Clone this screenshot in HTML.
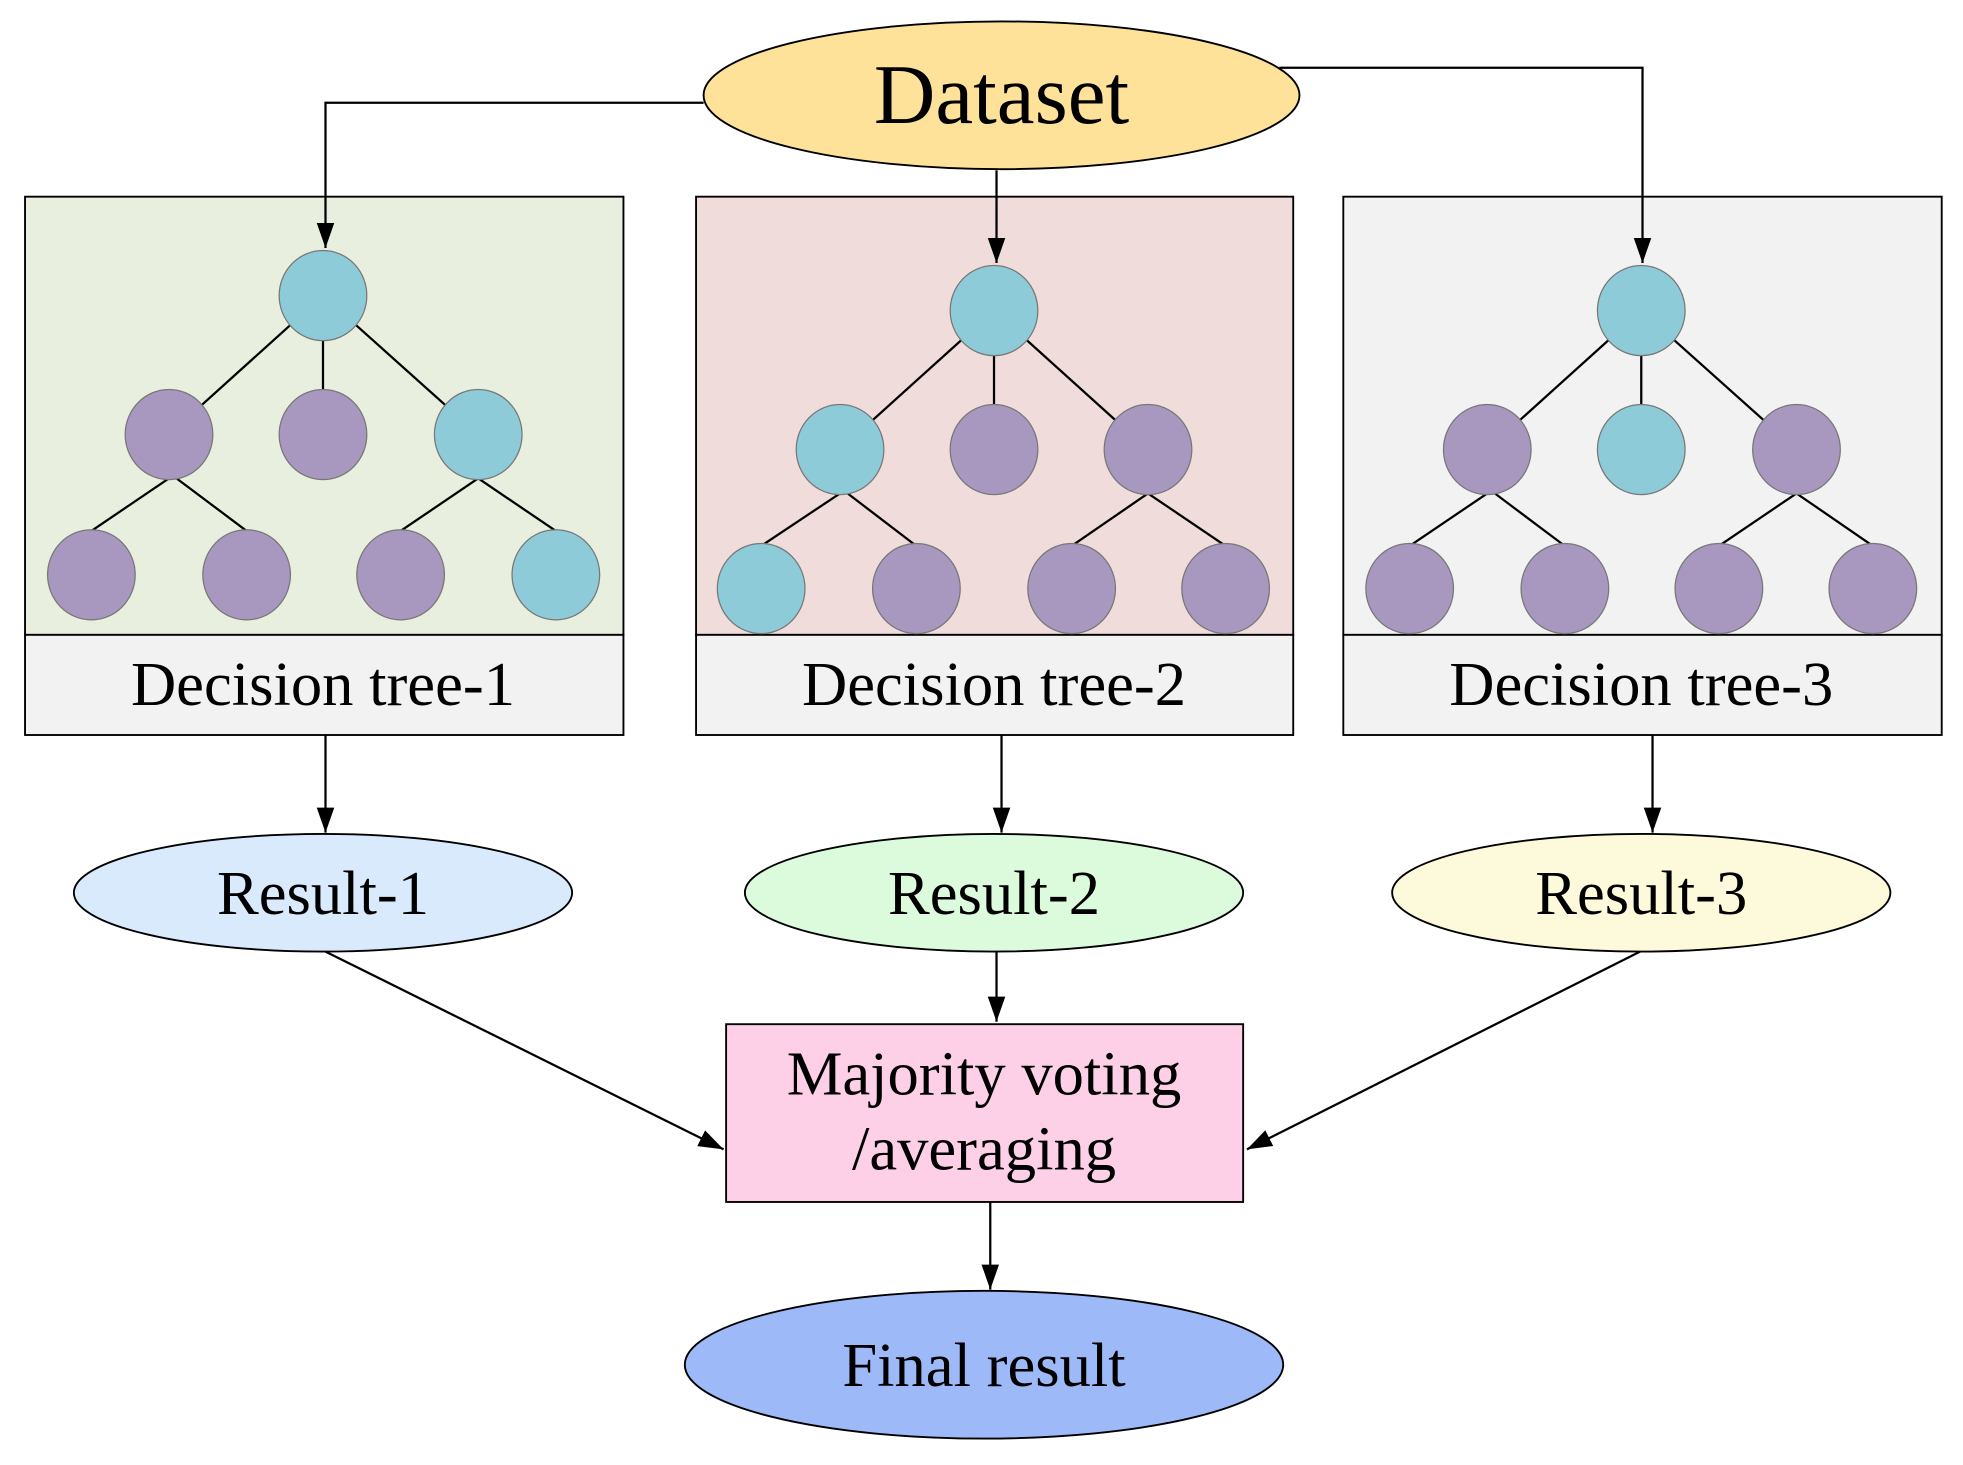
<!DOCTYPE html>
<html><head><meta charset="utf-8"><style>html,body{margin:0;padding:0;background:#fff}svg{display:block}</style></head>
<body>
<svg width="1963" height="1465" viewBox="0 0 1568 1170" xmlns="http://www.w3.org/2000/svg" font-family="'Liberation Serif', serif">
<defs>
<marker id="b" markerWidth="20" markerHeight="20" refX="20" refY="10" orient="auto" markerUnits="userSpaceOnUse" viewBox="0 0 20 20"><path d="M0,3 L20,10 L0,17 z" fill="#000"/></marker>
</defs>
<rect x="20" y="157" width="478" height="350" fill="#e9efdf" stroke="#000" stroke-width="1.5"/>
<rect x="20" y="507" width="478" height="80" fill="#f2f2f2" stroke="#000" stroke-width="1.5"/>
<rect x="556" y="157" width="477" height="350" fill="#f0dcdb" stroke="#000" stroke-width="1.5"/>
<rect x="556" y="507" width="477" height="80" fill="#f2f2f2" stroke="#000" stroke-width="1.5"/>
<rect x="1073" y="157" width="478" height="350" fill="#f2f2f2" stroke="#000" stroke-width="1.5"/>
<rect x="1073" y="507" width="478" height="80" fill="#f2f2f2" stroke="#000" stroke-width="1.5"/>
<g font-size="50" text-anchor="middle" fill="#000">
<text x="258" y="563">Decision tree-1</text>
<text x="794" y="563">Decision tree-2</text>
<text x="1311" y="563">Decision tree-3</text>
</g>
<g stroke="#000" stroke-width="1.8">
<line x1="258" y1="236" x2="135" y2="347"/><line x1="258" y1="236" x2="258" y2="347"/><line x1="258" y1="236" x2="382" y2="347"/>
<line x1="135" y1="382" x2="73" y2="424"/><line x1="141" y1="382" x2="197" y2="424"/><line x1="382" y1="382" x2="320" y2="424"/><line x1="382" y1="382" x2="444" y2="424"/>
<line x1="794" y1="248" x2="671" y2="359"/><line x1="794" y1="248" x2="794" y2="359"/><line x1="794" y1="248" x2="917" y2="359"/>
<line x1="671" y1="394" x2="608" y2="436"/><line x1="677" y1="394" x2="732" y2="436"/><line x1="917" y1="394" x2="856" y2="436"/><line x1="917" y1="394" x2="979" y2="436"/>
<line x1="1311" y1="248" x2="1188" y2="359"/><line x1="1311" y1="248" x2="1311" y2="359"/><line x1="1311" y1="248" x2="1435" y2="359"/>
<line x1="1188" y1="394" x2="1126" y2="436"/><line x1="1194" y1="394" x2="1250" y2="436"/><line x1="1435" y1="394" x2="1373" y2="436"/><line x1="1435" y1="394" x2="1496" y2="436"/>
</g>
<g stroke="#777" stroke-width="1">
<g fill="#8ecbd9">
<ellipse cx="258" cy="236" rx="35" ry="36"/><ellipse cx="382" cy="347" rx="35" ry="36"/><ellipse cx="444" cy="459" rx="35" ry="36"/>
<ellipse cx="794" cy="248" rx="35" ry="36"/><ellipse cx="671" cy="359" rx="35" ry="36"/><ellipse cx="608" cy="470" rx="35" ry="36"/>
<ellipse cx="1311" cy="248" rx="35" ry="36"/><ellipse cx="1311" cy="359" rx="35" ry="36"/>
</g>
<g fill="#a898c0">
<ellipse cx="135" cy="347" rx="35" ry="36"/><ellipse cx="258" cy="347" rx="35" ry="36"/><ellipse cx="73" cy="459" rx="35" ry="36"/><ellipse cx="197" cy="459" rx="35" ry="36"/><ellipse cx="320" cy="459" rx="35" ry="36"/>
<ellipse cx="794" cy="359" rx="35" ry="36"/><ellipse cx="917" cy="359" rx="35" ry="36"/><ellipse cx="732" cy="470" rx="35" ry="36"/><ellipse cx="856" cy="470" rx="35" ry="36"/><ellipse cx="979" cy="470" rx="35" ry="36"/>
<ellipse cx="1188" cy="359" rx="35" ry="36"/><ellipse cx="1435" cy="359" rx="35" ry="36"/><ellipse cx="1126" cy="470" rx="35" ry="36"/><ellipse cx="1250" cy="470" rx="35" ry="36"/><ellipse cx="1373" cy="470" rx="35" ry="36"/><ellipse cx="1496" cy="470" rx="35" ry="36"/>
</g>
</g>
<g stroke="#000" stroke-width="1.8" fill="none" marker-end="url(#b)">
<path d="M562,82 L260,82 L260,198"/>
<path d="M796,136 L796,210"/>
<path d="M1022,54 L1312,54 L1312,210"/>
<path d="M260,587 L260,665"/>
<path d="M800,587 L800,665"/>
<path d="M1320,587 L1320,665"/>
<path d="M260,760 L578,918"/>
<path d="M796,760 L796,816"/>
<path d="M1310,760 L996,918"/>
<path d="M791,960 L791,1030"/>
</g>
<ellipse cx="800" cy="76" rx="238" ry="59" fill="#fee29a" stroke="#000" stroke-width="1.5"/>
<text x="800" y="98" font-size="68" text-anchor="middle">Dataset</text>
<ellipse cx="258" cy="713" rx="199" ry="47" fill="#d9eafc" stroke="#000" stroke-width="1.5"/>
<ellipse cx="794" cy="713" rx="199" ry="47" fill="#dcfadc" stroke="#000" stroke-width="1.5"/>
<ellipse cx="1311" cy="713" rx="199" ry="47" fill="#fdfadc" stroke="#000" stroke-width="1.5"/>
<g font-size="50" text-anchor="middle">
<text x="258" y="730">Result-1</text>
<text x="794" y="730">Result-2</text>
<text x="1311" y="730">Result-3</text>
</g>
<rect x="580" y="818" width="413" height="142" fill="#fdd0e8" stroke="#000" stroke-width="1.5"/>
<g font-size="50" text-anchor="middle">
<text x="786" y="874">Majority voting</text>
<text x="786" y="934">/averaging</text>
</g>
<ellipse cx="786" cy="1090" rx="239" ry="59" fill="#9db9f7" stroke="#000" stroke-width="1.5"/>
<text x="786" y="1107" font-size="50" text-anchor="middle">Final result</text>
</svg>
</body></html>
